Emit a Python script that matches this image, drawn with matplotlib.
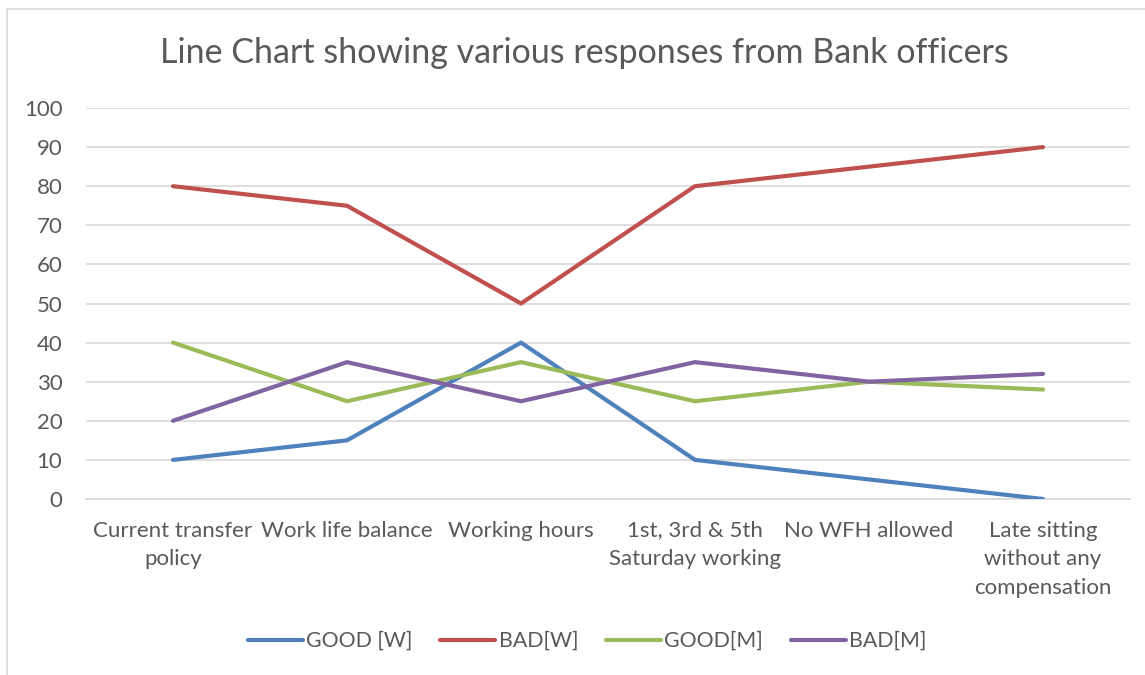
import matplotlib
matplotlib.use("Agg")
import matplotlib.pyplot as plt
from matplotlib.lines import Line2D

categories = ["Current transfer\npolicy", "Work life balance", "Working hours",
              "1st, 3rd & 5th\nSaturday working", "No WFH allowed",
              "Late sitting\nwithout any\ncompensation"]
good_w = [10, 15, 40, 10, 5, 0]
bad_w = [80, 75, 50, 80, 85, 90]
good_m = [40, 25, 35, 25, 30, 28]
bad_m = [20, 35, 25, 35, 30, 32]
series_names = ["GOOD [W]", "BAD[W]", "GOOD[M]", "BAD[M]"]
colors = ["#4F81BD", "#C0504D", "#9BBB59", "#8064A2"]
yticks = list(range(0, 101, 10))

plt.rcParams['font.family'] = ['Lato', 'DejaVu Sans']
txt = "#595959"

fig = plt.figure(figsize=(11.45, 6.75), dpi=100)
ax = fig.add_axes([86/1145, 1-499/675, (1130-86)/1145, (499-108)/675])

x = list(range(len(categories)))
for vals, name, c in zip([good_w, bad_w, good_m, bad_m], series_names, colors):
    ax.plot(x, vals, color=c, lw=3, label=name, solid_capstyle='round', solid_joinstyle='round', zorder=3)

ax.set_xlim(-0.5, len(categories) - 0.5)
ax.set_ylim(0, 100)
ax.set_yticks(yticks)
ax.set_yticklabels([str(v) for v in yticks], fontsize=16, color=txt)
ax.set_xticks(x)
ax.set_xticklabels(categories, fontsize=16, color=txt, linespacing=1.56, va='top')
ax.tick_params(axis='both', length=0)
ax.tick_params(axis='x', pad=15.5)
ax.tick_params(axis='y', pad=17)
ax.grid(axis='y', color='#D9D9D9', lw=1.2, zorder=0)
for s in ['top', 'right', 'left']:
    ax.spines[s].set_visible(False)
ax.spines['bottom'].set_color('#D9D9D9')
ax.spines['bottom'].set_linewidth(1.2)

fig.text(584/1145, 1-63/675, "Line Chart showing various responses from Bank officers",
         ha='center', va='baseline', fontsize=24.5, color=txt)

handles = [Line2D([0], [0], color=c, lw=3, solid_capstyle='round') for c in colors]
fig.legend(handles, series_names, loc='center', bbox_to_anchor=(587/1145, 1-641/675),
           ncol=4, frameon=False, fontsize=15.3, labelcolor=txt, handlelength=2.6,
           handletextpad=0.15, columnspacing=1.3)

# chart border (left and top)
fig.add_artist(Line2D([7/1145, 7/1145], [1-9/675, 0], color='#D9D9D9', lw=1.2, transform=fig.transFigure))
fig.add_artist(Line2D([7/1145, 1], [1-9/675, 1-9/675], color='#D9D9D9', lw=1.2, transform=fig.transFigure))

fig.savefig("out.png", dpi=100)
